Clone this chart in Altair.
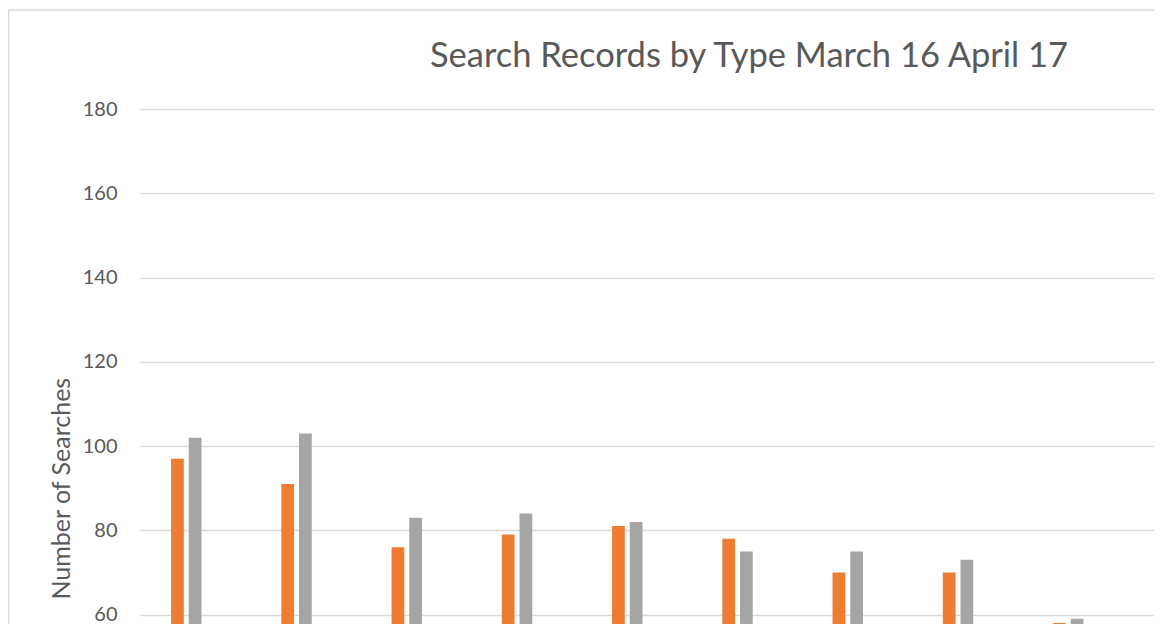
import altair as alt
import pandas as pd

# Categories (x positions) – names are below the visible crop, so axis is hidden
types = [f"Type {i}" for i in range(1, 13)]
series_names = ["Series 1", "Series 2", "Series 3", "Series 4", "Series 5"]
shown_series = ["Series 2", "Series 3"]
orange_vals = [97, 91, 76, 79, 81, 78, 70, 70, 58]
gray_vals = [102, 103, 83, 84, 82, 75, 75, 73, 59]
y_ticks = [60, 80, 100, 120, 140, 160, 180]
title_text = ["Search Records by Type March 16 April 17"]

rows = []
for t, v in zip(types, orange_vals):
    rows.append({"type": t, "series": "Series 2", "searches": v})
for t, v in zip(types, gray_vals):
    rows.append({"type": t, "series": "Series 3", "searches": v})
df = pd.DataFrame(rows)

LEFT = 132
TOP = 101
SVG_W = 1146
SVG_H = 616
PW = SVG_W - LEFT          # visible plot width
PH = SVG_H - TOP           # visible plot height
FULL_W = 1323              # full category range (extends past the crop)
FULL_H = 758.4             # full value range 0..180 (extends past the crop)
FONT = "Lato"
TXT = "#595959"
BORDER = "#D9D9D9"

one = pd.DataFrame({"f": [0]})
frame_top = alt.Chart(one).mark_rule(color=BORDER, strokeWidth=1.5).encode(
    x=alt.value(-131.5), x2=alt.value(PW + 20), y=alt.value(-99)
)
frame_left = alt.Chart(one).mark_rule(color=BORDER, strokeWidth=1.5).encode(
    x=alt.value(-131.5), y=alt.value(-99), y2=alt.value(PH + 20)
)

title = alt.Chart(pd.DataFrame({"t": title_text})).mark_text(
    font=FONT, fontSize=34.5, color=TXT, align="center", baseline="alphabetic"
).encode(x=alt.value(609), y=alt.value(-42), text="t:N")

bars = alt.Chart(df).mark_bar().encode(
    x=alt.X("type:N", sort=types,
            scale=alt.Scale(domain=types, range=[0, FULL_W], paddingInner=0, paddingOuter=0),
            axis=None),
    xOffset=alt.XOffset("series:N",
                        scale=alt.Scale(domain=series_names, paddingInner=0.28, paddingOuter=0.754)),
    y=alt.Y("searches:Q",
            scale=alt.Scale(domain=[0, 180], nice=False, range=[FULL_H, 0]),
            axis=alt.Axis(values=y_ticks, title="Number of Searches", grid=True,
                          gridColor="#D9D9D9", gridWidth=1.4, domain=False, ticks=False,
                          labelPadding=23, labelFontSize=20, labelColor=TXT, labelFont=FONT,
                          titleFont=FONT, titleFontSize=25, titleColor=TXT,
                          titleFontWeight="normal", titlePadding=8,
                          titleY=FULL_H / 2)),
    color=alt.Color("series:N",
                    scale=alt.Scale(domain=shown_series, range=["#ED7D31", "#A5A5A5"]),
                    legend=None),
)

chart = alt.layer(frame_top, frame_left, title, bars).properties(
    width=PW, height=PH,
    padding={"left": LEFT, "top": TOP, "right": 0, "bottom": 0},
    autosize=alt.AutoSizeParams(type="none"),
).configure_view(stroke="transparent", strokeWidth=0)

chart.save("out.html", embed_options={"renderer": "svg", "actions": False})
